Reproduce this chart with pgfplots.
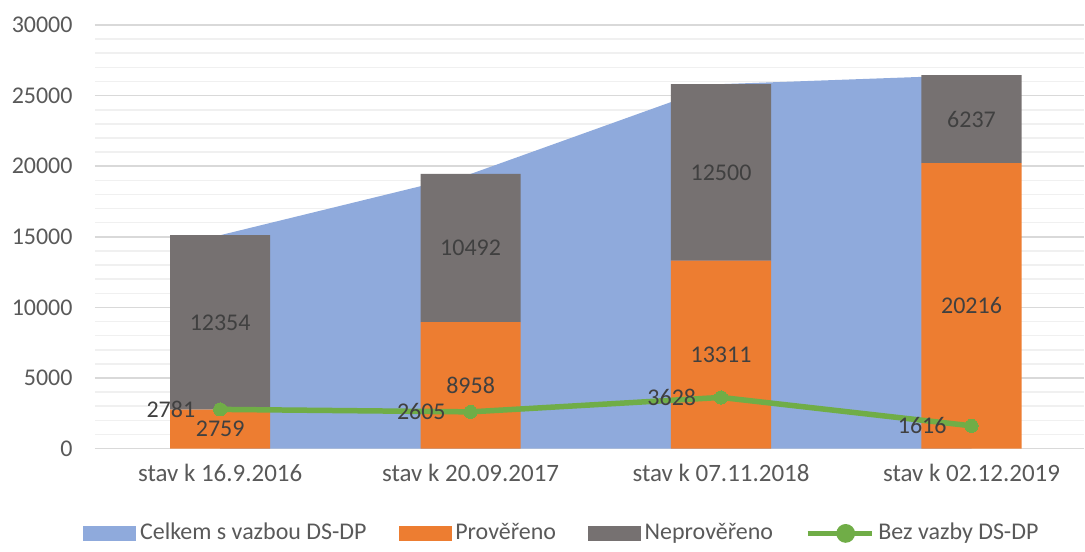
\documentclass[border=0pt]{standalone}
\usepackage{fontspec}
\setmainfont{Carlito}
\usepackage{pgfplots}
\pgfplotsset{compat=1.18}
\definecolor{cArea}{HTML}{8FAADC}
\definecolor{cDone}{HTML}{ED7D31}
\definecolor{cTodo}{HTML}{767171}
\definecolor{cLine}{HTML}{70AD47}
\definecolor{cText}{HTML}{595959}
\definecolor{cLab}{HTML}{404040}

\pgfplotsset{
  base/.style={
    scale only axis, width=495pt, height=212pt,
    xmin=-0.5, xmax=3.45, ymin=0, ymax=30000,
    scaled y ticks=false,
    /pgf/number format/1000 sep={},
    /pgf/number format/assume math mode=true,
  },
}

\begin{document}
\fontsize{12}{14}\selectfont
\begin{tikzpicture}
% background: grid, ticks, area
\begin{axis}[base,
  axis line style={draw=none},
  ytick={0,5000,...,30000},
  minor ytick={1000,2000,...,29000},
  ymajorgrids, yminorgrids,
  major grid style={draw=black!15, line width=0.8pt},
  minor grid style={draw=black!6, line width=0.8pt},
  major tick length=0pt, minor tick length=0pt,
  xtick={0,1,2,3},
  xticklabels={stav k 16.9.2016, stav k 20.09.2017, stav k 07.11.2018, stav k 02.12.2019},
  tick label style={font=\fontsize{12}{14}\selectfont, text=cText},
  xticklabel style={font=\fontsize{12.5}{14}\selectfont, yshift=-3.5pt},
  yticklabel style={xshift=-7pt},
]
\addplot[fill=cArea, draw=none] coordinates {(0,15113)(1,19450)(2,25811)(3,26453)} \closedcycle;
\end{axis}

% stacked bars, labels centred in each segment
\begin{axis}[base, hide axis,
  ybar stacked, bar width=0.4,
  nodes near coords,
  every node near coord/.append style={anchor=center,
    text=cLab, font=\fontsize{12}{14}\selectfont},
]
\addplot[fill=cDone, draw=none] coordinates {(0,2759)(1,8958)(2,13311)(3,20216)};
\addplot[fill=cTodo, draw=none] coordinates {(0,12354)(1,10492)(2,12500)(3,6237)};
\end{axis}

% line and legend
\begin{axis}[base, hide axis,
  legend columns=-1,
  legend style={at={(0.473,-0.2)}, anchor=center, draw=none, fill=none,
    font=\fontsize{12}{14}\selectfont, text=cText,
    /tikz/every even column/.append style={column sep=14pt}},
  legend cell align=left,
]
\addlegendimage{legend image code/.code={\fill[cArea] (0pt,-3.3pt) rectangle (26pt,3.3pt);}}
\addlegendimage{legend image code/.code={\fill[cDone] (0pt,-3.3pt) rectangle (26pt,3.3pt);}}
\addlegendimage{legend image code/.code={\fill[cTodo] (0pt,-3.3pt) rectangle (26pt,3.3pt);}}
\addplot[cLine, line width=2.75pt, mark=*, mark size=3.3pt,
  mark options={fill=cLine, draw=cLine, line width=0pt},
  nodes near coords,
  every node near coord/.append style={anchor=east, xshift=-8.5pt,
    text=cLab, font=\fontsize{12}{14}\selectfont},
  legend image code/.code={\draw[cLine, line width=2.75pt] (0pt,0pt) -- (32pt,0pt);
    \fill[cLine] (19pt,0pt) circle (3.3pt);},
] coordinates {(0,2781)(1,2605)(2,3628)(3,1616)};
\legend{Celkem s vazbou DS-DP, Prověřeno, Neprověřeno, Bez vazby DS-DP}
\end{axis}
\path[use as bounding box] (-47.5pt,-47pt) rectangle (495pt,224.5pt);
\end{tikzpicture}
\end{document}
